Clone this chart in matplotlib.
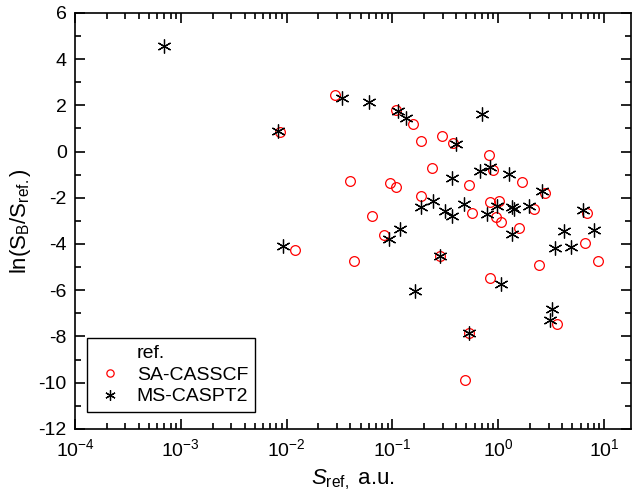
import numpy as np
import matplotlib.pyplot as plt
from matplotlib.lines import Line2D
from matplotlib.ticker import LogLocator, MultipleLocator, NullFormatter

plt.rcParams['font.family'] = ['Liberation Sans', 'DejaVu Sans']
plt.rcParams['mathtext.fontset'] = 'custom'
plt.rcParams['mathtext.rm'] = 'Liberation Sans'
plt.rcParams['mathtext.it'] = 'Liberation Sans:italic'
plt.rcParams['axes.unicode_minus'] = False

# SA-CASSCF
s_ref_cas = [8.7e-3, 0.0286, 0.0396, 0.012, 0.0435, 0.108, 0.156, 0.187, 0.294,
             0.376, 0.81, 0.898, 1.67, 2.78, 0.0957, 0.107, 0.237, 0.525, 0.185,
             0.56, 0.83, 1.02, 0.95, 1.06, 2.19, 1.58, 0.0643, 0.083, 6.87, 6.62,
             0.284, 0.835, 2.4, 8.7, 3.62, 0.53, 0.48]
ln_cas = [0.83, 2.45, -1.27, -4.28, -4.74, 1.79, 1.19, 0.45, 0.65,
          0.35, -0.13, -0.78, -1.31, -1.81, -1.38, -1.55, -0.72, -1.43, -1.92,
          -2.64, -2.19, -2.13, -2.85, -3.03, -2.49, -3.29, -2.78, -3.6, -2.65, -3.94,
          -4.5, -5.49, -4.92, -4.73, -7.44, -7.85, -9.9]

# MS-CASPT2
s_ref_pt2 = [6.9e-4, 8.2e-3, 0.0333, 9.2e-3, 0.0598, 0.112, 0.133, 0.399, 0.700,
             0.672, 0.84, 1.27, 2.58, 0.363, 0.187, 0.244, 0.316, 0.366, 0.478,
             0.787, 0.97, 1.35, 1.42, 1.96, 1.36, 0.092, 0.119, 6.34, 4.17, 8.1,
             3.45, 4.89, 0.284, 0.162, 1.07, 3.2, 3.07, 0.53]
ln_pt2 = [4.56, 0.88, 2.32, -4.1, 2.15, 1.75, 1.43, 0.33, 1.61,
          -0.83, -0.66, -0.99, -1.71, -1.14, -2.38, -2.16, -2.57, -2.80, -2.25,
          -2.72, -2.36, -2.41, -2.48, -2.36, -3.58, -3.78, -3.36, -2.54, -3.45, -3.40,
          -4.17, -4.12, -4.5, -6.04, -5.75, -6.82, -7.30, -7.85]

asterisk = (6, 2, 0)

fig = plt.figure(figsize=(6.33, 4.93), dpi=100)
ax = fig.add_axes([0.1185, 0.130, 0.8785, 0.844])

h_cas, = ax.plot(s_ref_cas, ln_cas, linestyle='none', marker='o', markersize=7,
                 markerfacecolor='none', markeredgecolor='red', markeredgewidth=0.9,
                 label='SA-CASSCF')
h_pt2, = ax.plot(s_ref_pt2, ln_pt2, linestyle='none', marker=asterisk, markersize=10,
                 color='black', markeredgewidth=0.9, label='MS-CASPT2')

ax.set_xscale('log')
ax.set_xlim(1e-4, 18)
ax.set_ylim(-12, 6)

ax.xaxis.set_major_locator(LogLocator(base=10, numticks=10))
ax.xaxis.set_minor_locator(LogLocator(base=10, subs=np.arange(2, 10), numticks=20))
ax.xaxis.set_minor_formatter(NullFormatter())
ax.yaxis.set_major_locator(MultipleLocator(2))
ax.yaxis.set_minor_locator(MultipleLocator(1))

ax.tick_params(which='both', direction='in', top=True, right=True, width=1.2)
ax.tick_params(which='major', length=7, labelsize=14)
ax.tick_params(axis='x', which='major', pad=7)
ax.tick_params(axis='y', which='major', pad=6)
ax.tick_params(which='minor', length=4)
for sp in ax.spines.values():
    sp.set_linewidth(1.2)

ax.set_xlabel(r'$\mathit{S}_{\mathrm{ref},}$ a.u.', fontsize=16, labelpad=5)
ax.set_ylabel(r'ln(S$_{\mathrm{B}}$/S$_{\mathrm{ref.}}$)', fontsize=16, labelpad=4)

# blank first row carries the "ref." heading in line with the labels
blank = Line2D([], [], linestyle='none', marker='none')
leg = ax.legend([blank, h_cas, h_pt2], ['ref.', 'SA-CASSCF', 'MS-CASPT2'],
                loc='lower left', bbox_to_anchor=(0.022, 0.04),
                fontsize=14, markerscale=0.75, fancybox=False,
                edgecolor='black', framealpha=1, handlelength=1.6,
                borderpad=0.35, labelspacing=0.2, handletextpad=0.6,
                borderaxespad=0)
leg.get_frame().set_linewidth(1.0)

fig.savefig('out.png', dpi=100)
